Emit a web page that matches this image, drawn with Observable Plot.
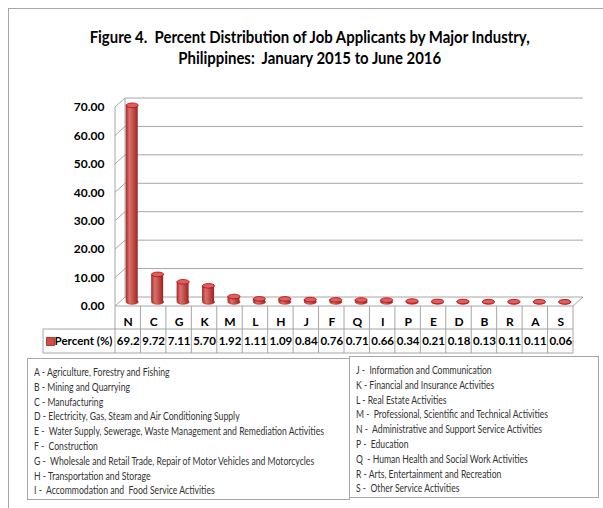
<!DOCTYPE html>
<html><head><meta charset="utf-8">
<script src="https://cdn.jsdelivr.net/npm/d3@7"></script>
<script src="https://cdn.jsdelivr.net/npm/@observablehq/plot@0.6"></script>
<style>
body{margin:0;background:#fff;width:603px;height:508px;overflow:hidden;position:relative;font-family:Lato,"Open Sans",sans-serif;}
#frame{position:absolute;left:8px;top:8px;width:620px;height:520px;border:1px solid #a6a6a6;}
#title{position:absolute;left:8px;width:604px;top:26px;text-align:center;font-weight:bold;font-size:17px;line-height:21px;color:#000;}
#title span{display:inline-block;white-space:pre;transform-origin:center;}
#chart{position:absolute;left:0;top:90px;}
.box{position:absolute;background:#fff;border:1px solid #a6a6a6;color:#333;box-sizing:border-box;overflow:hidden;}
.box .inner{display:inline-block;white-space:pre;font-size:10.5px;line-height:14.8px;transform-origin:left top;}
#boxL{left:27px;top:358px;width:323px;height:142px;padding:6px 0 0 6px;}
#boxR{left:349px;top:356px;width:250px;height:142px;padding:6px 0 0 6px;}
</style></head>
<body>
<div id="frame"></div>
<div id="title"><span id="t1">Figure 4.  Percent Distribution of Job Applicants by Major Industry,</span><br><span id="t2">Philippines:  January 2015 to June 2016</span></div>
<div id="chart"></div>
<div id="boxL" class="box"><div class="inner" id="innerL"></div></div>
<div id="boxR" class="box"><div class="inner" id="innerR"></div></div>
<script>
const industries = ["N","C","G","K","M","L","H","J","F","Q","I","P","E","D","B","R","A","S"];
const percents = [69.2,9.72,7.11,5.70,1.92,1.11,1.09,0.84,0.76,0.71,0.66,0.34,0.21,0.18,0.13,0.11,0.11,0.06];
const valueLabels = ["69.2","9.72","7.11","5.70","1.92","1.11","1.09","0.84","0.76","0.71","0.66","0.34","0.21","0.18","0.13","0.11","0.11","0.06"];
const yTicks = [0,10,20,30,40,50,60,70];
const seriesName = "Percent (%)";
const legendLeft = [
  "A - Agriculture, Forestry and Fishing",
  "B - Mining and Quarrying",
  "C - Manufacturing",
  "D - Electricity, Gas, Steam and Air Conditioning Supply",
  "E -  Water Supply, Sewerage, Waste Management and Remediation Activities",
  "F -  Construction",
  "G -  Wholesale and Retail Trade, Repair of Motor Vehicles and Motorcycles",
  "H - Transportation and Storage",
  "I -  Accommodation and  Food Service Activities"
];
const legendRight = [
  "J -  Information and Communication",
  "K - Financial and Insurance Activities",
  "L - Real Estate Activities",
  "M -  Professional, Scientific and Technical Activities",
  "N -  Administrative and Support Service Activities",
  "P -  Education",
  "Q  - Human Health and Social Work Activities",
  "R - Arts, Entertainment and Recreation",
  "S -  Other Service Activities"
];

const data = industries.map((k, i) => ({k, i, v: percents[i], label: valueLabels[i]}));
const NS = "http://www.w3.org/2000/svg";
const DX = 10, DY = 9;       // depth of 3D walls (px)
const BDX = 4, BDY = -4.5;   // bars sit mid-depth

function ellipse(rx, ry) {
  const k = 0.5523;
  return {draw(ctx) {
    ctx.moveTo(rx, 0);
    ctx.bezierCurveTo(rx, ry * k, rx * k, ry, 0, ry);
    ctx.bezierCurveTo(-rx * k, ry, -rx, ry * k, -rx, 0);
    ctx.bezierCurveTo(-rx, -ry * k, -rx * k, -ry, 0, -ry);
    ctx.bezierCurveTo(rx * k, -ry, rx, -ry * k, rx, 0);
    ctx.closePath();
  }};
}

function defs() {
  const d = document.createElementNS(NS, "defs");
  d.innerHTML = `<linearGradient id="cyl" x1="0" x2="1" y1="0" y2="0">
    <stop offset="0" stop-color="#a32724"/>
    <stop offset="0.3" stop-color="#d8716e"/>
    <stop offset="0.6" stop-color="#c4504c"/>
    <stop offset="1" stop-color="#9a2421"/>
  </linearGradient>`;
  return d;
}

function frame3d(index, scales) {
  const {x, y} = scales;
  const g = document.createElementNS(NS, "g");
  g.setAttribute("stroke", "#a6a6a6");
  g.setAttribute("fill", "none");
  g.setAttribute("stroke-width", "1");
  const n = industries.length;
  const x0 = x(0), xN = x(n), top = yTicks[yTicks.length - 1];
  const L = [];
  for (const t of yTicks) {
    L.push([x0 + DX, y(t) - DY, xN + DX, y(t) - DY]);
    L.push([x0, y(t), x0 + DX, y(t) - DY]);
  }
  L.push([x0, y(0), x0, y(top)]);
  L.push([x0 + DX, y(0) - DY, x0 + DX, y(top) - DY]);
  L.push([xN, y(0), xN + DX, y(0) - DY]);
  // data table grid
  const r0 = y(0), r1 = y(0) + 23, r2 = y(0) + 47, lx = x0 - 72;
  L.push([x0, r0, xN, r0]);
  L.push([lx, r1, xN, r1]);
  L.push([lx, r2, xN, r2]);
  L.push([lx, r1, lx, r2]);
  for (let i = 0; i <= n; i++) L.push([x(i), r0, x(i), r2]);
  for (const [a, b, c, d] of L) {
    const l = document.createElementNS(NS, "line");
    l.setAttribute("x1", a); l.setAttribute("y1", b);
    l.setAttribute("x2", c); l.setAttribute("y2", d);
    g.appendChild(l);
  }
  return g;
}

const chart = Plot.plot({
  width: 603,
  height: 270,
  marginLeft: 115,
  marginRight: 30,
  marginTop: 17,
  marginBottom: 54,
  style: {fontFamily: 'Lato,"Open Sans",sans-serif', fontSize: "11.5px", color: "#000", background: "transparent"},
  x: {domain: [0, industries.length], axis: null},
  y: {domain: [0, 70], axis: null},
  marks: [
    defs,
    frame3d,
    Plot.axisY({ticks: yTicks, tickFormat: d => d.toFixed(2), tickSize: 0, tickPadding: 11, fontWeight: "bold", fontSize: 12, label: null}),
    Plot.dot(data, {x: d => d.i + 0.5, y: 0, symbol: ellipse(6, 2.3), r: 2, fill: "url(#cyl)", stroke: "#b51a16", strokeWidth: 0.6, dx: BDX, dy: BDY}),
    Plot.rect(data, {x1: d => d.i + 0.5, x2: d => d.i + 0.5, y1: 0, y2: "v", insetLeft: -6, insetRight: -6, fill: "url(#cyl)", dx: BDX, dy: BDY}),
    Plot.dot(data, {x: d => d.i + 0.5, y: "v", symbol: ellipse(6, 2.3), r: 2, fill: "#d8625f", stroke: "#c40000", strokeWidth: 0.8, dx: BDX, dy: BDY}),
    Plot.text(data, {x: d => d.i + 0.5, y: 0, text: "k", dy: 16, fontWeight: "bold", fontSize: 12}),
    Plot.text(data, {x: d => d.i + 0.5, y: 0, text: "label", dy: 35, fontWeight: "bold", fontSize: 11.5}),
    Plot.text([seriesName], {x: 0, y: 0, text: d => d, dy: 35, dx: -3, textAnchor: "end", fontWeight: "bold", fontSize: 11.5}),
    Plot.dot([seriesName], {x: 0, y: 0, symbol: "square", r: 4.5, fill: "#c94f4c", stroke: "#b00000", strokeWidth: 0.7, dx: -65, dy: 35})
  ]
});
document.getElementById("chart").appendChild(chart);
document.getElementById("innerL").textContent = legendLeft.join("\n");
document.getElementById("innerR").textContent = legendRight.join("\n");

function fit() {
  const t1 = document.getElementById("t1"), t2 = document.getElementById("t2");
  t1.style.transform = t2.style.transform = "none";
  const s = 440 / t1.getBoundingClientRect().width;
  t1.style.transform = t2.style.transform = `scaleX(${s})`;
  for (const [id, target] of [["innerL", 290], ["innerR", 192]]) {
    const el = document.getElementById(id);
    el.style.transform = "none";
    const k = target / el.getBoundingClientRect().width;
    el.style.transform = `scaleX(${k})`;
  }
}
fit();
if (document.fonts && document.fonts.ready) document.fonts.ready.then(fit);
</script>
</body></html>
